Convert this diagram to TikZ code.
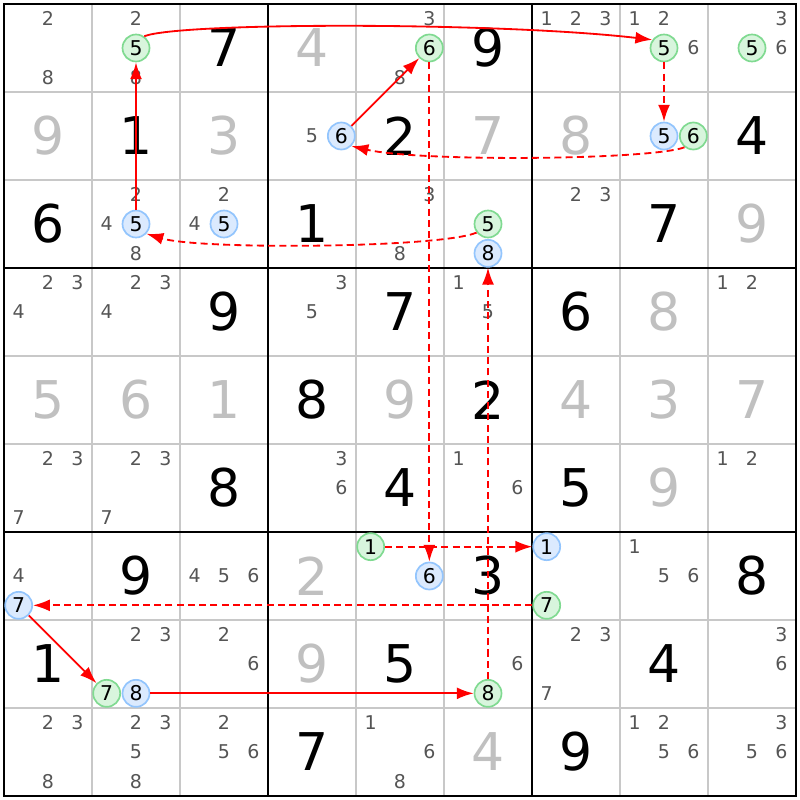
\documentclass[tikz,border=0pt]{standalone}
\usepackage{fontspec}
\setmainfont{DejaVu Sans}
\usepackage{xcolor}
\usetikzlibrary{arrows.meta}
\definecolor{candgrey}{RGB}{85,85,85}
\definecolor{solvedgrey}{RGB}{192,192,192}
\definecolor{gridgrey}{RGB}{200,200,200}
\definecolor{onfill}{RGB}{216,245,221}
\definecolor{onborder}{RGB}{128,218,145}
\definecolor{offfill}{RGB}{219,234,254}
\definecolor{offborder}{RGB}{147,197,253}
\definecolor{linkred}{RGB}{255,0,0}
\newcommand{\candpos}[3]{%
  \pgfmathsetmacro\cx{#2-0.5+(mod(#3-1,3)-1)/3}%
  \pgfmathsetmacro\cy{#1-0.5+(floor((#3-1)/3)-1)/3}}

\begin{document}
\begin{tikzpicture}[x=2.2cm,y=-2.2cm]

                \tikzstyle{cand}  = [inner sep=0pt, text=candgrey, font=\fontsize{13.5}{13.5}\selectfont]
                \tikzstyle{given} = [inner sep=0pt, text=black, font=\fontsize{37}{37}\selectfont]
                \tikzstyle{solved} = [given, text=solvedgrey]
                \tikzstyle{on cand} = [circle, draw=onborder, fill=onfill, line width=1.2pt, minimum size=0.675cm, inner sep=0pt, font=\fontsize{14.5}{14.5}\selectfont]
                \tikzstyle{off cand} = [on cand, draw=offborder, fill=offfill]
                \tikzstyle{strong link} = [draw=linkred, line width=1.3pt, -{Latex[length=12pt,width=8.5pt,fill=linkred]}]
                \tikzstyle{weak link} = [strong link, dash pattern=on 5pt off 3pt]

                \fill[white] (-0.0455,-0.0455) rectangle (9.0455,9.0455);
                \useasboundingbox (-0.0455,-0.0455) rectangle (9.0455,9.0455);

                \foreach \i in {1,...,8}
                {
                        \draw[gridgrey, line width=1pt] (\i,0) -- (\i,9);
                        \draw[gridgrey, line width=1pt] (0,\i) -- (9,\i);
                }
                \foreach \i in {3,6}
                {
                        \draw[line width=2.1pt] (\i,0) -- (\i,9);
                        \draw[line width=2.1pt] (0,\i) -- (9,\i);
                }
                \draw[line width=2.1pt] (0,0) rectangle (9,9);

                \foreach \rw/\cl/\val in {1/3/7, 1/6/9, 2/2/1, 2/5/2, 2/9/4, 3/1/6, 3/4/1, 3/8/7,
                        4/3/9, 4/5/7, 4/7/6, 5/4/8, 5/6/2, 6/3/8, 6/5/4, 6/7/5,
                        7/2/9, 7/6/3, 7/9/8, 8/1/1, 8/5/5, 8/8/4, 9/4/7, 9/7/9}
                {
                        \node[given] (v\rw\cl) at (\cl-0.5,\rw-0.5) {\val};
                }

                \foreach \rw/\cl/\val in {1/4/4, 2/1/9, 2/3/3, 2/6/7, 2/7/8, 3/9/9, 4/8/8,
                        5/1/5, 5/2/6, 5/3/1, 5/5/9, 5/7/4, 5/8/3, 5/9/7, 6/8/9, 7/4/2, 8/4/9, 9/6/4}
                {
                        \node[solved] (v\rw\cl) at (\cl-0.5,\rw-0.5) {\val};
                }

                \foreach \rw/\cl/\ds in {1/1/{2,8}, 1/2/{2,8}, 1/5/{3,8}, 1/7/{1,2,3}, 1/8/{1,2,6}, 1/9/{3,6},
                        2/4/{5}, 3/2/{2,4,8}, 3/3/{2,4}, 3/5/{3,8}, 3/7/{2,3},
                        4/1/{2,3,4}, 4/2/{2,3,4}, 4/4/{3,5}, 4/6/{1,5}, 4/9/{1,2},
                        6/1/{2,3,7}, 6/2/{2,3,7}, 6/4/{3,6}, 6/6/{1,6}, 6/9/{1,2},
                        7/1/{4}, 7/3/{4,5,6}, 7/8/{1,5,6},
                        8/2/{2,3}, 8/3/{2,6}, 8/6/{6}, 8/7/{2,3,7}, 8/9/{3,6},
                        9/1/{2,3,8}, 9/2/{2,3,5,8}, 9/3/{2,5,6}, 9/5/{1,6,8}, 9/8/{1,2,5,6}, 9/9/{3,5,6}}
                {
                        \foreach \d in \ds
                        {
                                \candpos{\rw}{\cl}{\d}
                                \node[cand] (k\rw\cl\d) at (\cx,\cy) {\d};
                        }
                }

                \foreach \rw/\cl/\d in {1/2/5, 1/5/6, 1/8/5, 1/9/5, 2/8/6, 3/6/5, 7/5/1, 7/7/7, 8/2/7, 8/6/8}
                {
                        \candpos{\rw}{\cl}{\d}
                        \node[on cand] (g\rw\cl\d) at (\cx,\cy) {\d};
                }

                \foreach \rw/\cl/\d in {2/4/6, 2/8/5, 3/2/5, 3/3/5, 3/6/8, 7/1/7, 7/5/6, 7/7/1, 8/2/8}
                {
                        \candpos{\rw}{\cl}{\d}
                        \node[off cand] (b\rw\cl\d) at (\cx,\cy) {\d};
                }

                \draw[strong link] (b325) -- (g125);
                \draw[strong link] (g125.55) .. controls (2.0,0.205) and (5.636,0.205) .. (g185.145);
                \draw[weak link] (g185) -- (b285);
                \draw[weak link] (g286.232) .. controls (7.341,1.773) and (4.727,1.795) .. (b246.315);
                \draw[strong link] (b246) -- (g156);
                \draw[weak link] (g156) -- (b756);
                \draw[weak link] (g751) -- (b771);
                \draw[weak link] (g777) -- (b717);
                \draw[strong link] (b717) -- (g827);
                \draw[strong link] (b828) -- (g868);
                \draw[weak link] (g868) -- (b368);
                \draw[weak link] (g365.217) .. controls (4.955,2.773) and (2.227,2.795) .. (b325.317);

\end{tikzpicture}
\end{document}
